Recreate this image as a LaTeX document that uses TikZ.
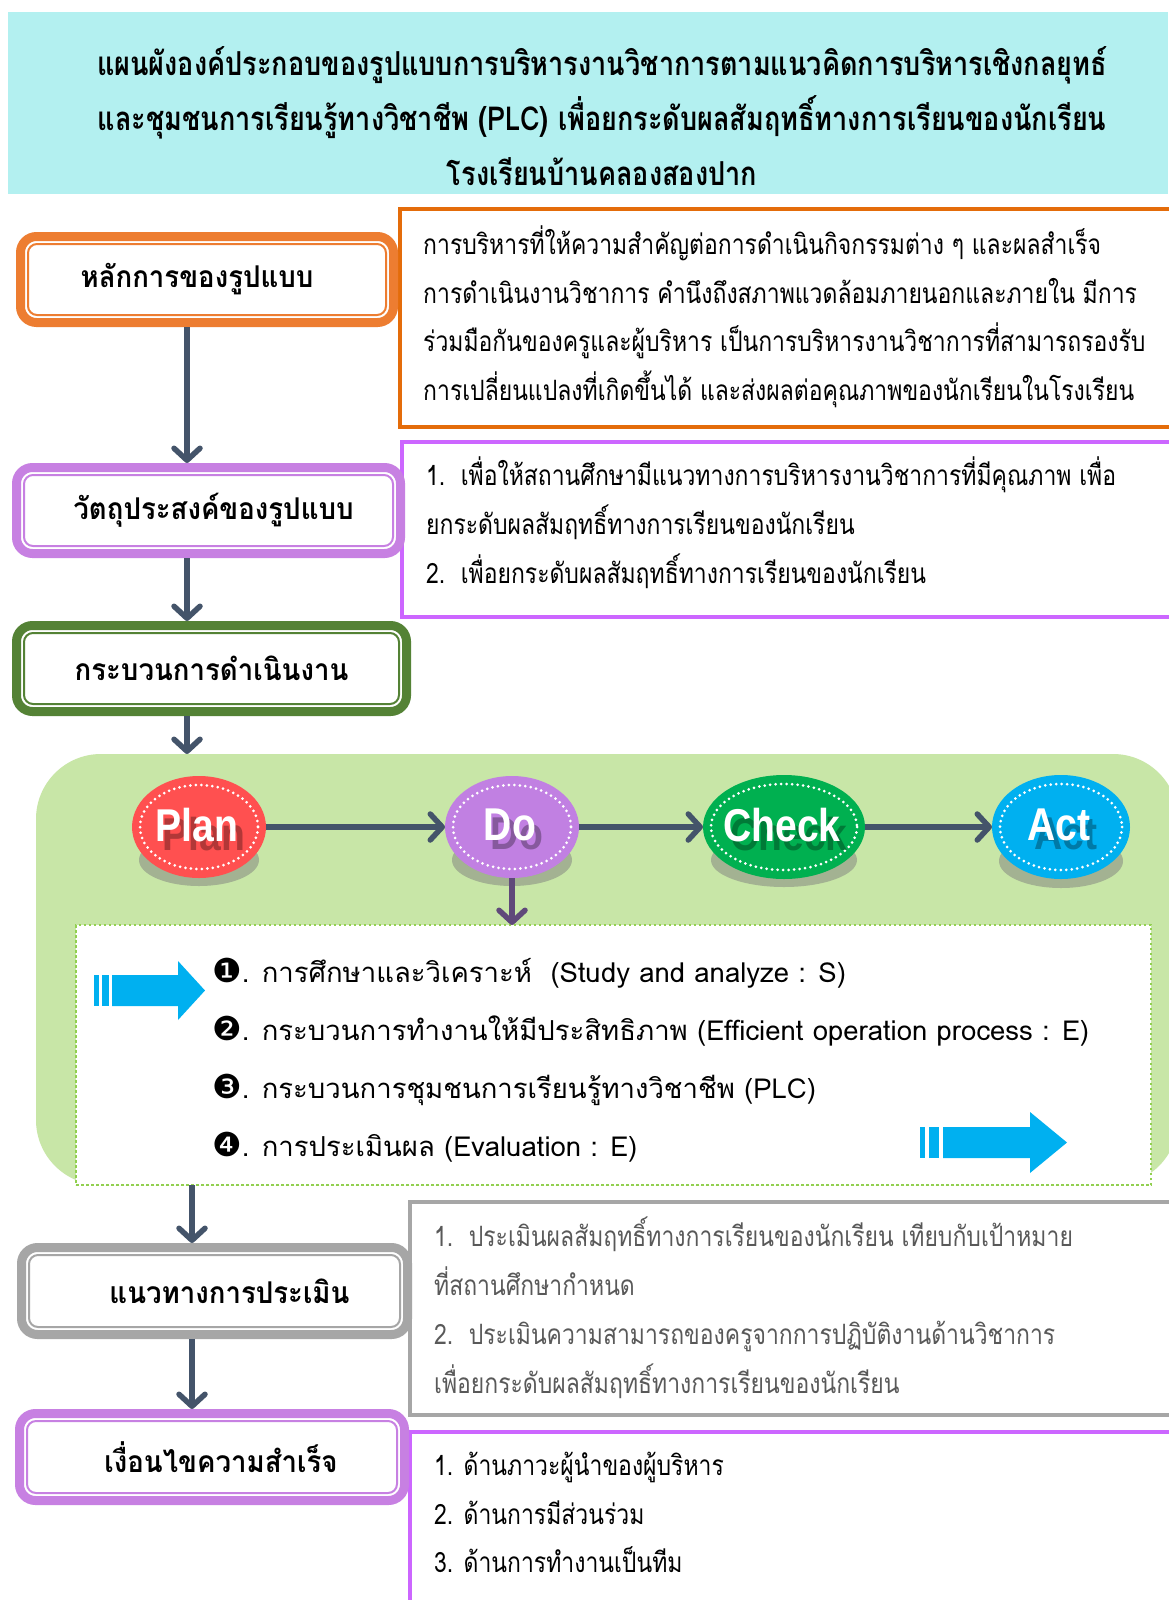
\documentclass[tikz,border=0pt]{standalone}
\usepackage{fontspec}
\usetikzlibrary{shapes.geometric,arrows.meta}
\newfontfamily\thai[Script=Thai]{Loma}
\newfontfamily\thaic[Script=Thai,FakeStretch=0.82]{Loma}
\newfontfamily\thaitb[Script=Thai,FakeStretch=0.82]{Loma}
\newfontfamily\thailb[Script=Thai,FakeStretch=0.92]{Loma}
\newfontfamily\dejavu{DejaVu Sans}
\newfontfamily\pdcafont[FakeStretch=0.85]{Liberation Sans}
\definecolor{titlebg}{RGB}{179,240,240}
\definecolor{orangeB}{RGB}{237,125,49}
\definecolor{orangeT}{RGB}{228,108,10}
\definecolor{purpB}{RGB}{199,128,226}
\definecolor{purpT}{RGB}{204,102,255}
\definecolor{greenB}{RGB}{84,130,53}
\definecolor{greyB}{RGB}{166,166,166}
\definecolor{greyTxt}{RGB}{89,89,89}
\definecolor{arrowC}{RGB}{68,84,106}
\definecolor{regionG}{RGB}{200,230,167}
\definecolor{planR}{RGB}{255,80,80}
\definecolor{doP}{RGB}{193,128,226}
\definecolor{checkG}{RGB}{0,176,80}
\definecolor{actB}{RGB}{0,176,240}
\definecolor{shadowC}{RGB}{163,178,146}
\definecolor{dotG}{RGB}{146,208,80}
\definecolor{doArrow}{RGB}{96,73,122}
\newcommand\titlefont{\thaitb\bfseries\fontsize{33}{55}\selectfont}
\newcommand\lblfont{\thailb\bfseries\fontsize{30}{32}\selectfont}
\newcommand\rtfont{\thaic\fontsize{28}{30}\selectfont}
\newcommand\itfont{\thai\fontsize{27.5}{30}\selectfont}
\newcommand\bulfont{\dejavu\fontsize{33}{30}\selectfont}
\newcommand\pdfont{\pdcafont\bfseries\fontsize{46}{48}\selectfont}
\begin{document}
\begin{tikzpicture}[x=1pt,y=-1pt,
  arr/.style={draw=arrowC, line width=5.5pt, -{Straight Barb[length=12pt,width=26pt,round]}},
  lbox/.style={draw=#1, line width=9pt, rounded corners=16pt, fill=white, inner sep=0pt, outer sep=0pt, font=\lblfont},
  ibox/.style={draw=#1, line width=2pt, rounded corners=9pt},
  tbox/.style={draw=#1, line width=3.5pt, inner sep=0pt, outer sep=0pt, anchor=north west},
  rt/.style={anchor=base west, inner sep=0pt, font=\rtfont},
  it/.style={anchor=base west, inner sep=0pt, font=\itfont},
  pdca/.style={ellipse, fill=#1, inner sep=0pt, outer sep=0pt},
  pdtxt/.style={inner sep=0pt, text=white, font=\pdfont},
  pdsh/.style={inner sep=0pt, text=black, opacity=0.3, font=\pdfont},
  dots/.style={draw=white, line width=3pt, line cap=round, dash pattern=on 0pt off 5.5pt},
  bluearrow/.style={fill=actB}
]
\useasboundingbox (0,0) rectangle (1168,1600);
\fill[white] (0,0) rectangle (1168,1600);

% title
\node[fill=titlebg, inner sep=0pt, outer sep=0pt, minimum width=1160pt, minimum height=182pt, anchor=north west] (band) at (8,12) {};
\node[font=\titlefont, align=center, inner sep=0pt] (titleT) at (602,116) {แผนผังองค์ประกอบของรูปแบบการบริหารงานวิชาการตามแนวคิดการบริหารเชิงกลยุทธ์\\และชุมชนการเรียนรู้ทางวิชาชีพ (PLC) เพื่อยกระดับผลสัมฤทธิ์ทางการเรียนของนักเรียน\\โรงเรียนบ้านคลองสองปาก};

% right text boxes
\node[tbox=orangeT, minimum width=800pt, minimum height=218pt] (ob) at (400,209) {};
\node[rt] (o1) at (423,254) {การบริหารที่ให้ความสำคัญต่อการดำเนินกิจกรรมต่าง ๆ และผลสำเร็จ};
\node[rt] (o2) at (423,303) {การดำเนินงานวิชาการ คำนึงถึงสภาพแวดล้อมภายนอกและภายใน มีการ};
\node[rt] (o3) at (423,351) {ร่วมมือกันของครูและผู้บริหาร เป็นการบริหารงานวิชาการที่สามารถรองรับ};
\node[rt] (o4) at (423,400) {การเปลี่ยนแปลงที่เกิดขึ้นได้ และส่งผลต่อคุณภาพของนักเรียนในโรงเรียน};

\node[tbox=purpT, minimum width=800pt, minimum height=175pt] (pb) at (402,442) {};
\node[rt] (p1) at (426,485) {1.\ \ เพื่อให้สถานศึกษามีแนวทางการบริหารงานวิชาการที่มีคุณภาพ เพื่อ};
\node[rt] (p2) at (426,534) {ยกระดับผลสัมฤทธิ์ทางการเรียนของนักเรียน};
\node[rt] (p3) at (426,583) {2.\ \ เพื่อยกระดับผลสัมฤทธิ์ทางการเรียนของนักเรียน};

\node[tbox=greyB, minimum width=800pt, minimum height=213pt] (gb) at (410,1202) {};
\node[rt, text=greyTxt] (g1) at (434,1246) {1.\ \ ประเมินผลสัมฤทธิ์ทางการเรียนของนักเรียน เทียบกับเป้าหมาย};
\node[rt, text=greyTxt] (g2) at (434,1295) {ที่สถานศึกษากำหนด};
\node[rt, text=greyTxt] (g3) at (434,1344) {2.\ \ ประเมินความสามารถของครูจากการปฏิบัติงานด้านวิชาการ};
\node[rt, text=greyTxt] (g4) at (434,1393) {เพื่อยกระดับผลสัมฤทธิ์ทางการเรียนของนักเรียน};

\node[tbox=purpT, minimum width=800pt, minimum height=220pt] (sb) at (410,1432) {};
\node[rt] (s1) at (434,1475) {1. ด้านภาวะผู้นำของผู้บริหาร};
\node[rt] (s2) at (434,1524) {2. ด้านการมีส่วนร่วม};
\node[rt] (s3) at (434,1572) {3. ด้านการทำงานเป็นทีม};

% green region
\node[fill=regionG, rounded corners=65pt, inner sep=0pt, outer sep=0pt, minimum width=1142pt, minimum height=431pt, anchor=north west] (region) at (36,754) {};
\node[draw=dotG, fill=white, line width=2.5pt, dash pattern=on 2.5pt off 2.5pt, inner sep=0pt, outer sep=0pt, minimum width=1075pt, minimum height=260pt, anchor=north west] (pbox) at (76,925) {};

% left boxes
\node[lbox=orangeB, minimum width=373pt, minimum height=86pt] (b1) at (207,279.5) {หลักการของรูปแบบ\hspace*{20pt}};
\draw[ibox=orangeB] ([shift={(7.5,7.5)}]b1.north west) rectangle ([shift={(-7.5,-7.5)}]b1.south east);
\node[lbox=purpB, minimum width=384pt, minimum height=86pt] (b2) at (208.5,510.5) {\hspace*{10pt}วัตถุประสงค์ของรูปแบบ};
\draw[ibox=purpB] ([shift={(7.5,7.5)}]b2.north west) rectangle ([shift={(-7.5,-7.5)}]b2.south east);
\node[lbox=greenB, minimum width=390pt, minimum height=86pt] (b3) at (211.5,668.5) {กระบวนการดำเนินงาน};
\draw[ibox=greenB] ([shift={(7.5,7.5)}]b3.north west) rectangle ([shift={(-7.5,-7.5)}]b3.south east);
\node[lbox=greyB, minimum width=386pt, minimum height=87pt] (b4) at (214.5,1291) {\hspace*{30pt}แนวทางการประเมิน};
\draw[ibox=greyB] ([shift={(7.5,7.5)}]b4.north west) rectangle ([shift={(-7.5,-7.5)}]b4.south east);
\node[lbox=purpB, minimum width=385pt, minimum height=87pt] (b5) at (212,1457) {\hspace*{18pt}เงื่อนไขความสำเร็จ};
\draw[ibox=purpB] ([shift={(7.5,7.5)}]b5.north west) rectangle ([shift={(-7.5,-7.5)}]b5.south east);

% vertical connectors
\coordinate (ax) at (187,0);
\coordinate (ay) at (192,0);
\draw[arr, shorten <=4.5pt, shorten >=4.5pt] (b1.south -| ax) -- (b2.north -| ax);
\draw[arr, shorten <=4.5pt, shorten >=4.5pt] (b2.south -| ax) -- (b3.north -| ax);
\draw[arr, shorten <=4.5pt] (b3.south -| ax) -- (region.north -| ax);
\draw[arr, shorten >=4.5pt] (pbox.south -| ay) -- (b4.north -| ay);
\draw[arr, shorten <=4.5pt, shorten >=4.5pt] (b4.south -| ay) -- (b5.north -| ay);

% PDCA
\fill[shadowC] (199,860) ellipse [x radius=60, y radius=26];
\fill[shadowC] (512,860) ellipse [x radius=60, y radius=26];
\fill[shadowC] (784,860) ellipse [x radius=73, y radius=27];
\fill[shadowC] (1061,861) ellipse [x radius=62, y radius=27];
\node[pdca=planR, minimum width=134pt, minimum height=102pt] (plan) at (199,827) {};
\node[pdca=doP, minimum width=134pt, minimum height=102pt] (do) at (512,827) {};
\node[pdca=checkG, minimum width=162pt, minimum height=104pt] (check) at (784,827) {};
\node[pdca=actB, minimum width=138pt, minimum height=104pt] (act) at (1061,827) {};
\draw[dots] (plan.center) ellipse [x radius=59, y radius=42];
\draw[dots] (do.center) ellipse [x radius=59, y radius=42];
\draw[dots] (check.center) ellipse [x radius=73, y radius=43];
\draw[dots] (act.center) ellipse [x radius=61, y radius=43];
\node[pdsh] (planS) at ([shift={(5,7)}]plan.center) {Plan};
\node[pdtxt] (planT) at ([shift={(-2,-2)}]plan.center) {Plan};
\node[pdsh] (doS) at ([shift={(5,7)}]do.center) {Do};
\node[pdtxt] (doT) at ([shift={(-2,-2)}]do.center) {Do};
\node[pdsh] (checkS) at ([shift={(5,7)}]check.center) {Check};
\node[pdtxt] (checkT) at ([shift={(-2,-2)}]check.center) {Check};
\node[pdsh] (actS) at ([shift={(5,7)}]act.center) {Act};
\node[pdtxt] (actT) at ([shift={(-2,-2)}]act.center) {Act};
\draw[arr] (plan) -- (do);
\draw[arr] (do) -- (check);
\draw[arr] (check) -- (act);
\draw[arr, draw=doArrow] (do.south) -- (do.south |- pbox.north);

% items
\node[it] (i1) at (212,982) {{\bulfont ❶}. การศึกษาและวิเคราะห์\ \ (Study and analyze : S)};
\node[it] (i2) at (212,1040) {{\bulfont ❷}. กระบวนการทำงานให้มีประสิทธิภาพ (Efficient operation process : E)};
\node[it] (i3) at (212,1098) {{\bulfont ❸}. กระบวนการชุมชนการเรียนรู้ทางวิชาชีพ (PLC)};
\node[it] (i4) at (212,1156) {{\bulfont ❹}. การประเมินผล (Evaluation : E)};

% blue arrows
\fill[bluearrow] (94,975) rectangle (99,1006);
\fill[bluearrow] (102,975) rectangle (109,1006);
\fill[bluearrow] (112,975) -- (178,975) -- (178,961) -- (205,990.5) -- (178,1020) -- (178,1006) -- (112,1006) -- cycle;
\fill[bluearrow] (920,1127) rectangle (925,1158);
\fill[bluearrow] (929,1127) rectangle (939,1158);
\fill[bluearrow] (943,1127) -- (1030,1127) -- (1030,1112) -- (1067,1142.5) -- (1030,1173) -- (1030,1158) -- (943,1158) -- cycle;
\end{tikzpicture}
\end{document}
